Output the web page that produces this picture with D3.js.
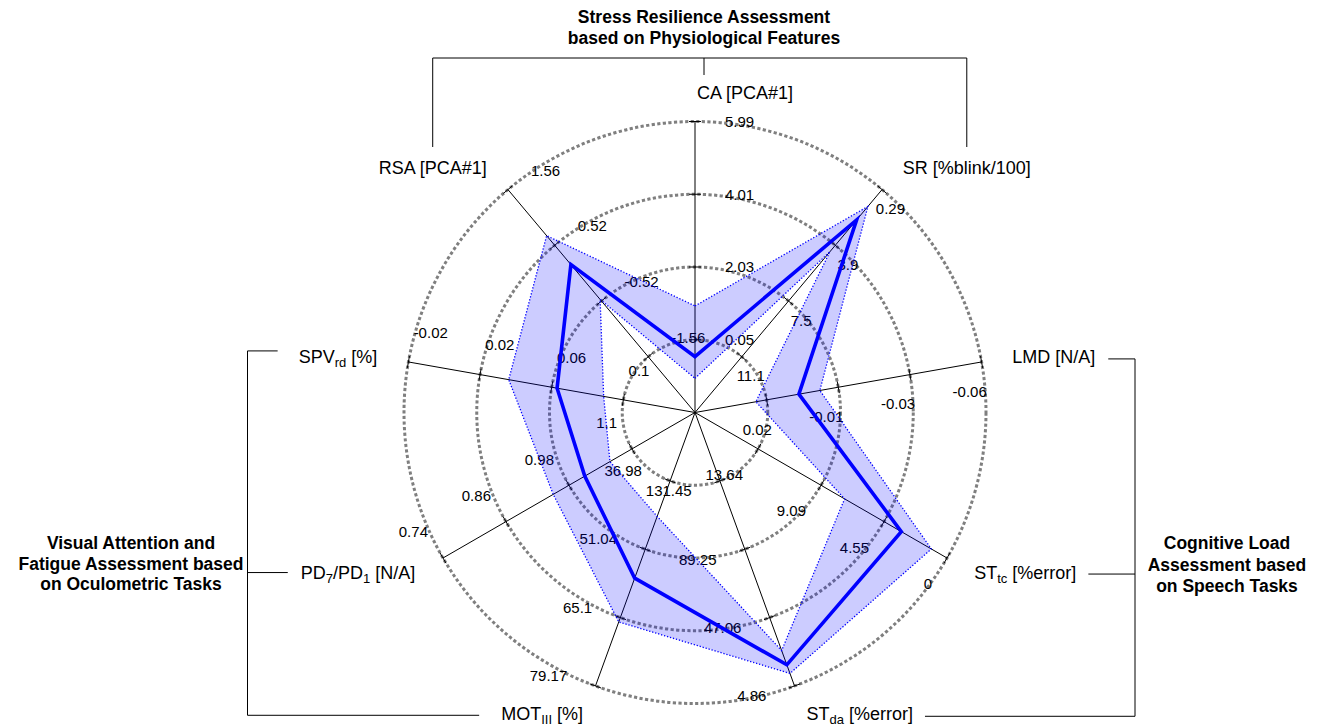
<!DOCTYPE html>
<html>
<head>
<meta charset="utf-8">
<script src="https://cdn.jsdelivr.net/npm/d3@7"></script>
<style>
  body { margin: 0; background: #fff; }
  svg { display: block; }
  text { font-family: "Liberation Sans", Arial, sans-serif; fill: #000; }
</style>
</head>
<body>
<svg id="chart" width="1319" height="726"></svg>
<script>
// ---- data -------------------------------------------------------------
// Axis names (clockwise from the top); _{..} marks a subscript
const axisLabels = [
  "CA [PCA#1]", "SR [%blink/100]", "LMD [N/A]", "ST_{tc} [%error]",
  "ST_{da} [%error]", "MOT_{III} [%]", "PD_{7}/PD_{1} [N/A]", "SPV_{rd} [%]", "RSA [PCA#1]"
];
// Tick labels per axis, from the innermost ring to the outermost ring
const tickLabels = [
  ["0.05", "2.03", "4.01", "5.99"],
  ["11.1", "7.5", "3.9", "0.29"],
  ["0.02", "-0.01", "-0.03", "-0.06"],
  ["13.64", "9.09", "4.55", "0"],
  ["131.45", "89.25", "47.06", "4.86"],
  ["36.98", "51.04", "65.1", "79.17"],
  ["1.1", "0.98", "0.86", "0.74"],
  ["0.1", "0.06", "0.02", "-0.02"],
  ["-1.56", "-0.52", "0.52", "1.56"]
];
// Central profile
const profileValues = [-0.41, 2.25, 0.008, 3.30, 17.9, 57.0, 1.01, 0.063, 0.16];
// Spread band: outer edge and inner edge
const bandOuter = [0.97, 1.38, 0.0002, 1.13, 12.6, 66.0, 0.95, 0.036, 0.70];
const bandInner = [-1.0, 4.3, 0.024, 7.39, 26.7, 44.3, 1.058, 0.089, -0.49];

// Group headings
const groupTop = ["Stress Resilience Assessment", "based on Physiological Features"];
const groupRight = ["Cognitive Load", "Assessment based", "on Speech Tasks"];
const groupLeft = ["Visual Attention and", "Fatigue Assessment based", "on Oculometric Tasks"];

// ---- layout ------------------------------------------------------------
const cx = 695, cy = 412.5, R = 291;
const n = axisLabels.length;
const svg = d3.select("#chart");

const angle = i => i * 2 * Math.PI / n;
const pt = (i, r) => [cx + r * Math.sin(angle(i)), cy - r * Math.cos(angle(i))];
const ringR = d3.scaleLinear().domain([0, 3]).range([R / 4, R]);
const scales = tickLabels.map(t =>
  d3.scaleLinear().domain([+t[0], +t[t.length - 1]]).range([R / 4, R]));

// Writes a label string with _{..} subscripts into a <text>
function richText(sel, str, size, subSize) {
  const parts = str.split(/(_\{[^}]*\})/).filter(s => s.length);
  let shifted = false;
  sel.attr("font-size", size);
  parts.forEach(p => {
    const sub = p.startsWith("_{");
    const t = sel.append("tspan").text(sub ? p.slice(2, -1) : p);
    if (sub) { t.attr("font-size", subSize).attr("dy", 4); shifted = true; }
    else if (shifted) { t.attr("dy", -4); shifted = false; }
  });
}

// ---- grid rings --------------------------------------------------------
svg.append("g").selectAll("circle").data(d3.range(4)).join("circle")
  .attr("cx", cx).attr("cy", cy).attr("r", d => ringR(d))
  .attr("fill", "none").attr("stroke", "#7f7f7f")
  .attr("stroke-width", 3).attr("stroke-dasharray", "3.2 2.4");

// ---- spokes and tick marks --------------------------------------------
const gAx = svg.append("g");
d3.range(n).forEach(i => {
  const [x1, y1] = pt(i, R);
  gAx.append("line").attr("x1", cx).attr("y1", cy).attr("x2", x1).attr("y2", y1)
    .attr("stroke", "#000").attr("stroke-width", 1);
  const a = angle(i), px = Math.cos(a), py = Math.sin(a);
  d3.range(4).forEach(k => {
    const [tx, ty] = pt(i, ringR(k));
    gAx.append("line")
      .attr("x1", tx - 6 * px).attr("y1", ty - 6 * py)
      .attr("x2", tx + 6 * px).attr("y2", ty + 6 * py)
      .attr("stroke", "#000").attr("stroke-width", 1);
  });
});

// ---- tick labels -------------------------------------------------------
const gTick = svg.append("g");
tickLabels.forEach((labels, i) => {
  const a = angle(i), deg = a * 180 / Math.PI;
  const anchor = (deg === 0 || deg > 260) ? "start" : "end";
  labels.forEach((lab, k) => {
    const [tx, ty] = pt(i, ringR(k));
    gTick.append("text")
      .attr("x", tx + 30 * Math.cos(a)).attr("y", ty + 30 * Math.sin(a))
      .attr("dy", "0.35em").attr("text-anchor", anchor)
      .attr("font-size", 15).text(lab);
  });
});

// ---- band and profile --------------------------------------------------
const gData = svg.append("g").attr("transform", `translate(${cx},${cy})`);
const radial = d3.lineRadial()
  .angle((d, i) => angle(i))
  .radius((d, i) => scales[i](d))
  .curve(d3.curveLinearClosed);

gData.append("path")
  .attr("d", radial(bandOuter) + radial(bandInner))
  .attr("fill", "#0000ff").attr("fill-opacity", 0.2).attr("fill-rule", "evenodd");
[bandOuter, bandInner].forEach(b => {
  gData.append("path").attr("d", radial(b))
    .attr("fill", "none").attr("stroke", "#0000ff")
    .attr("stroke-width", 1.3).attr("stroke-dasharray", "1.3 1.8");
});
gData.append("path").attr("d", radial(profileValues))
  .attr("fill", "none").attr("stroke", "#0000ff")
  .attr("stroke-width", 3.6).attr("stroke-linejoin", "miter");

// ---- axis names --------------------------------------------------------
const nameNodes = axisLabels.map((lab, i) => {
  const deg = angle(i) * 180 / Math.PI;
  const [x, y] = pt(i, 1.1 * R);
  const start = deg <= 180;
  const t = svg.append("text")
    .attr("x", x + (start ? 2 : -2.5)).attr("y", y).attr("dy", "0.35em")
    .attr("text-anchor", start ? "start" : "end");
  richText(t, lab, 18, 13);
  return t.node();
});
const box = i => nameNodes[i].getBBox();
const midY = i => pt(i, 1.1 * R)[1];

// ---- group brackets ----------------------------------------------------
const bracket = svg.append("g").attr("fill", "none").attr("stroke", "#000").attr("stroke-width", 1);

// top: RSA .. SR, with the heading above
const bRSA = box(8), bSR = box(1);
const topL = bRSA.x + bRSA.width / 2, topR = bSR.x + bSR.width / 2;
const topY = 58, titleX = 704;
bracket.append("path").attr("d",
  `M${topL},147V${topY}H${topR}V147M${titleX},${topY}V75`);
groupTop.forEach((s, k) => {
  svg.append("text").attr("x", titleX).attr("y", 17 + 20.5 * k).attr("dy", "0.35em")
    .attr("text-anchor", "middle").attr("font-size", 17.5).attr("font-weight", "bold").text(s);
});

// right: LMD, ST_tc, ST_da
const rightX = 1135;
const rightRows = [[2, 2, 13], [3, 1.5, 12], [4, 3, 12]];
const rY = rightRows.map(([i, dy]) => midY(i) + dy);
rightRows.forEach(([i, dy, gap], k) => {
  const b = box(i);
  bracket.append("path").attr("d", `M${b.x + b.width + gap},${rY[k]}H${rightX}`);
});
bracket.append("path").attr("d", `M${rightX},${rY[0]}V${rY[2]}`);
groupRight.forEach((s, k) => {
  svg.append("text").attr("x", 1227).attr("y", 543 + 21.5 * k).attr("dy", "0.35em")
    .attr("text-anchor", "middle").attr("font-size", 17.5).attr("font-weight", "bold").text(s);
});

// left: SPV_rd, PD7/PD1, MOT_III
const leftX = 247.5;
const leftRows = [[7, -6, 21], [6, 0, 13], [5, 2, 22]];
const lY = leftRows.map(([i, dy]) => midY(i) + dy);
leftRows.forEach(([i, dy, gap], k) => {
  const b = box(i);
  bracket.append("path").attr("d", `M${leftX},${lY[k]}H${b.x - gap}`);
});
bracket.append("path").attr("d", `M${leftX},${lY[0]}V${lY[2]}`);
groupLeft.forEach((s, k) => {
  svg.append("text").attr("x", 131).attr("y", 543 + 20.5 * k).attr("dy", "0.35em")
    .attr("text-anchor", "middle").attr("font-size", 17.5).attr("font-weight", "bold").text(s);
});
</script>
</body>
</html>
